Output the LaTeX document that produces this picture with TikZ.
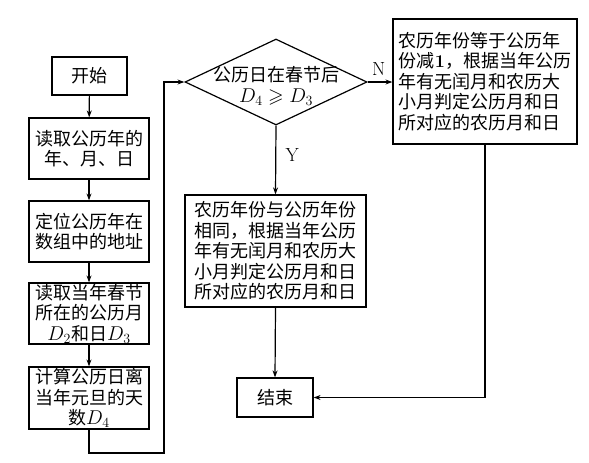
\documentclass[tikz,border=0pt]{standalone}
\usepackage{amssymb}
\usepackage{fix-cm}
\usepackage{fontspec}
\newfontfamily\cjk{Noto Sans CJK SC}
\usetikzlibrary{shapes.geometric,arrows.meta}
\newcommand{\mth}[1]{{\fontsize{20}{20}\selectfont$#1$}}
\tikzset{
  box/.style={draw, line width=1.2pt, inner sep=0pt, align=center,
    font=\cjk\fontsize{18}{20.5}\selectfont},
  lbox/.style={box, align=left},
  arr/.style={line width=1.2pt, -{Stealth[length=7pt,width=5pt]}},
  lab/.style={font=\rmfamily\fontsize{19}{20}\selectfont}
}
\begin{document}
\begin{tikzpicture}[x=1pt,y=-1pt]
\useasboundingbox (0,0) rectangle (589,463);
% left column
\node[box, minimum width=75pt, minimum height=38pt] (start) at (89.5,76) {开始};
\node[box, minimum width=120pt, minimum height=61pt] (b1) at (89,148.5) {读取公历年的\\年、月、日};
\node[box, minimum width=120pt, minimum height=61pt] (b2) at (89,231.5) {定位公历年在\\数组中的地址};
\node[box, minimum width=120pt, minimum height=61pt] (b3) at (89,313.5) {读取当年春节\\所在的公历月\\\mth{D_2}和日\mth{D_3}};
\node[box, minimum width=120pt, minimum height=62pt] (b4) at (89,398) {计算公历日离\\当年元旦的天\\数\mth{D_4}};
% decision
\node[draw, diamond, line width=1.2pt, minimum width=182pt, minimum height=86pt,
  inner xsep=-30pt, inner ysep=-16pt,
  font=\cjk\fontsize{18}{21}\selectfont] (dec) at (276,82)
  {\raisebox{-6pt}[\height][\depth]{\begin{tabular}{@{}c@{}}公历日在春节后\\\mth{D_4\geqslant D_3}\end{tabular}}};
% middle
\node[lbox, minimum width=181pt, minimum height=112pt] (mid) at (275.5,251) {农历年份与公历年份\\相同，根据当年公历\\年有无闰月和农历大\\小月判定公历月和日\\所对应的农历月和日};
\node[box, minimum width=76pt, minimum height=39pt] (end) at (275,397.5) {结束};
% right
\node[lbox, minimum width=184pt, minimum height=125pt] (rb) at (485,81.5) {农历年份等于公历年\\份减{\rmfamily\bfseries 1}，根据当年公历\\年有无闰月和农历大\\小月判定公历月和日\\所对应的农历月和日};
% connectors
\draw[arr] (start) -- (b1);
\draw[arr] (b1) -- (b2);
\draw[arr] (b2) -- (b3);
\draw[arr] (b3) -- (b4);
\coordinate (lb) at (164,453);
\draw[arr] (b4.south) |- (lb) |- (dec.west);
\draw[arr] (dec.south) -- node[lab, pos=0.43, right=6pt] (y) {Y} (mid.north);
\draw[arr] (dec.east) -- node[lab, pos=0.45, above=3pt] (n) {N} (rb.west |- dec.east);
\draw[arr] (mid.south) -- (end.north);
\draw[arr] (rb.south) |- (end.east);
\end{tikzpicture}
\end{document}
